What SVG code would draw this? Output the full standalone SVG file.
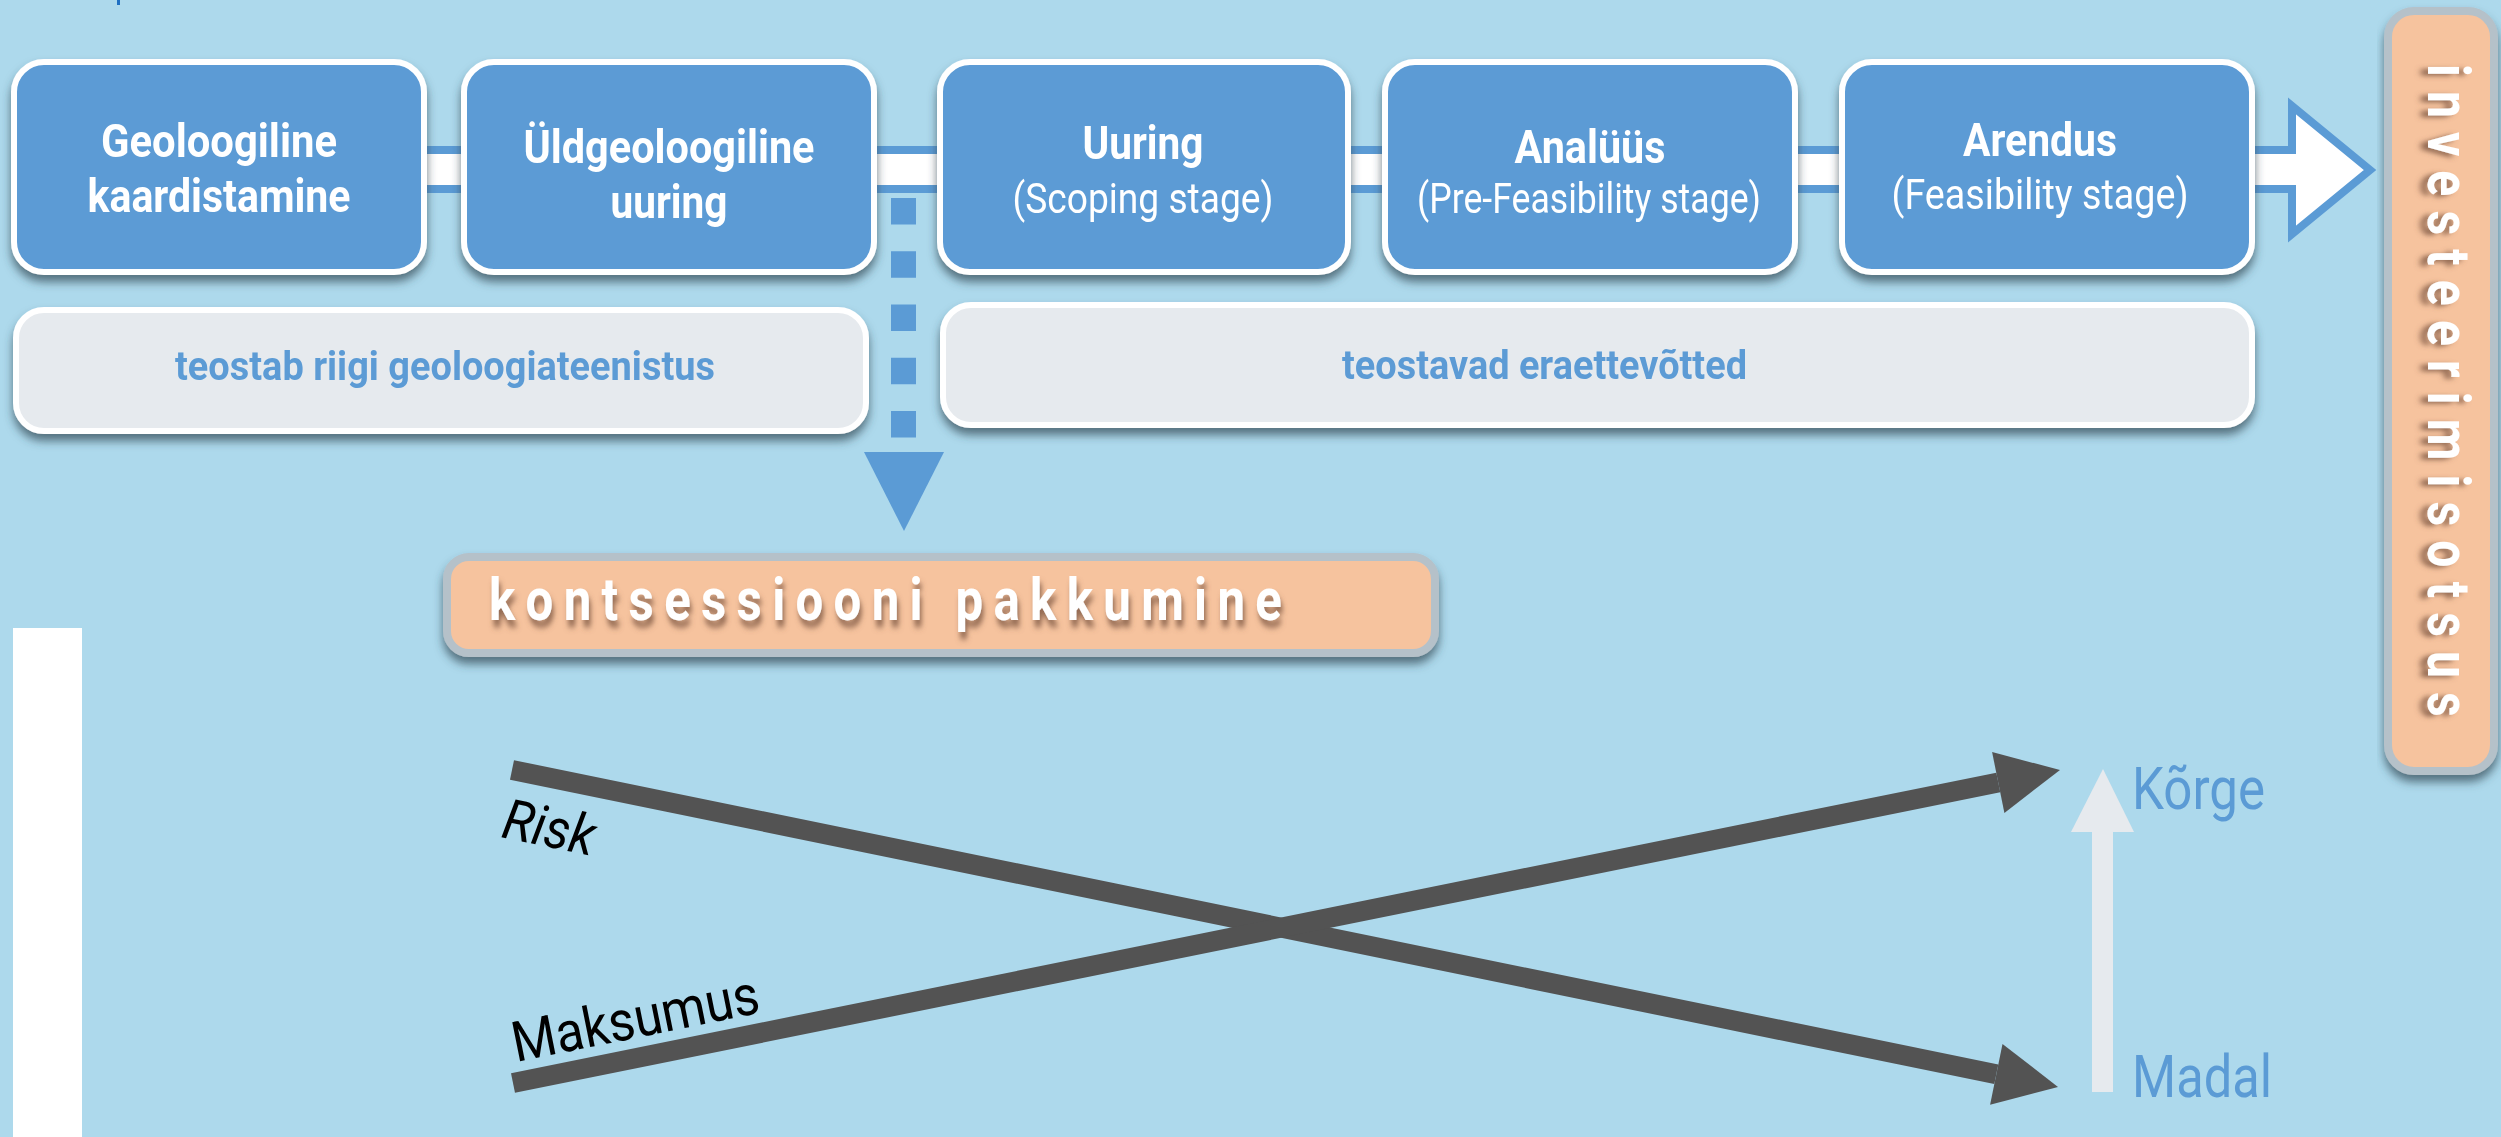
<svg xmlns="http://www.w3.org/2000/svg" width="2501" height="1137" viewBox="0 0 2501 1137">
<defs>
<style>
.node{fill:#5b9bd5;stroke:#ffffff;stroke-width:6}
.gbox{fill:#e6eaee;stroke:#ffffff;stroke-width:6}
.pbox{fill:#f6c39e;stroke:#b5c1c9;stroke-width:8}
.tb{font-family:Roboto,"Liberation Sans",sans-serif;font-weight:bold;font-size:46px;fill:#ffffff;text-anchor:middle}
.tr{font-family:Roboto,"Liberation Sans",sans-serif;font-size:42px;fill:#ffffff;text-anchor:middle}
.gt{font-family:Roboto,"Liberation Sans",sans-serif;font-weight:bold;font-size:40px;fill:#5b9bd5}
.pt{font-family:Roboto,"Liberation Sans",sans-serif;font-weight:bold;font-size:60px;fill:#ffffff}
.lt{font-family:Roboto,"Liberation Sans",sans-serif;font-size:56px;fill:#000000}
.st{font-family:Roboto,"Liberation Sans",sans-serif;font-size:60px;fill:#5b9bd5}
</style>
<filter id="sh" x="-10%" y="-20%" width="120%" height="150%">
<feGaussianBlur in="SourceAlpha" stdDeviation="5"/>
<feOffset dy="7" result="b"/>
<feFlood flood-color="#2f4550" flood-opacity="0.7"/>
<feComposite in2="b" operator="in"/>
<feMerge><feMergeNode/><feMergeNode in="SourceGraphic"/></feMerge>
</filter>
<filter id="tsh" x="-10%" y="-30%" width="120%" height="170%">
<feGaussianBlur in="SourceAlpha" stdDeviation="3"/>
<feOffset dx="2" dy="7" result="b"/>
<feFlood flood-color="#7a5440" flood-opacity="0.8"/>
<feComposite in2="b" operator="in"/>
<feMerge><feMergeNode/><feMergeNode in="SourceGraphic"/></feMerge>
</filter>
</defs>
<rect x="0" y="0" width="2501" height="1137" fill="#add9ec"/>
<rect x="117" y="0" width="3" height="5" fill="#1f6fc2"/>
<rect x="13" y="628" width="69" height="509" fill="#ffffff"/>

<g id="connectors">
<path d="M300 150 H2292 V106 L2370 170 L2292 234 V189 H300 Z" fill="#ffffff" stroke="#5b9bd5" stroke-width="8" stroke-linejoin="miter"/>
<line x1="903.5" y1="198" x2="903.5" y2="438" stroke="#5b9bd5" stroke-width="25" stroke-dasharray="26.5 26.75"/>
<polygon points="864,452 944,452 904,531" fill="#5b9bd5"/>
<line x1="512" y1="770" x2="1996.3" y2="1074.3" stroke="#535353" stroke-width="20"/>
<polygon points="2058,1087 1990.1,1104.7 2002.5,1043.9" fill="#535353"/>
<line x1="513" y1="1083" x2="1998.3" y2="782.5" stroke="#535353" stroke-width="20"/>
<polygon points="2060,770 2004.4,812.9 1992.1,752.1" fill="#535353"/>
<rect x="2092" y="830" width="21" height="262" fill="#e6eaee"/>
<polygon points="2103,769 2134,832 2071,832" fill="#e6eaee"/>
</g>

<g id="node-geoloogiline" filter="url(#sh)">
<rect class="node" x="14" y="62" width="410" height="210" rx="30"/>
<text class="tb" x="219" y="157" textLength="236" lengthAdjust="spacingAndGlyphs">Geoloogiline</text>
<text class="tb" x="219" y="212" textLength="263" lengthAdjust="spacingAndGlyphs">kaardistamine</text>
</g>
<g id="node-uldgeoloogiline" filter="url(#sh)">
<rect class="node" x="464" y="62" width="410" height="210" rx="30"/>
<text class="tb" x="669" y="163" textLength="291" lengthAdjust="spacingAndGlyphs">Üldgeoloogiline</text>
<text class="tb" x="669" y="218" textLength="117" lengthAdjust="spacingAndGlyphs">uuring</text>
</g>
<g id="node-uuring" filter="url(#sh)">
<rect class="node" x="940" y="62" width="408" height="210" rx="30"/>
<text class="tb" x="1143" y="159" textLength="121" lengthAdjust="spacingAndGlyphs">Uuring</text>
<text class="tr" x="1143" y="213" textLength="261" lengthAdjust="spacingAndGlyphs">(Scoping stage)</text>
</g>
<g id="node-analuus" filter="url(#sh)">
<rect class="node" x="1385" y="62" width="410" height="210" rx="30"/>
<text class="tb" x="1590" y="163" textLength="151" lengthAdjust="spacingAndGlyphs">Analüüs</text>
<text class="tr" x="1589" y="213" textLength="344" lengthAdjust="spacingAndGlyphs">(Pre-Feasibility stage)</text>
</g>
<g id="node-arendus" filter="url(#sh)">
<rect class="node" x="1842" y="62" width="410" height="210" rx="30"/>
<text class="tb" x="2040" y="156" textLength="154" lengthAdjust="spacingAndGlyphs">Arendus</text>
<text class="tr" x="2040" y="209" textLength="297" lengthAdjust="spacingAndGlyphs">(Feasibility stage)</text>
</g>

<g id="label-riik" filter="url(#sh)">
<rect class="gbox" x="16" y="310" width="850" height="121" rx="28"/>
<text class="gt" x="175" y="380" textLength="540" lengthAdjust="spacingAndGlyphs">teostab riigi geoloogiateenistus</text>
</g>
<g id="label-era" filter="url(#sh)">
<rect class="gbox" x="943" y="305" width="1309" height="120" rx="28"/>
<text class="gt" x="1342" y="379" textLength="405" lengthAdjust="spacingAndGlyphs">teostavad eraettevõtted</text>
</g>

<g id="node-kontsessioon" filter="url(#sh)">
<rect class="pbox" x="447" y="557" width="988" height="96" rx="22"/>
<text class="pt" font-size="62" transform="translate(489,620) scale(0.82,1)" x="0" y="0" textLength="967" lengthAdjust="spacing" filter="url(#tsh)">kontsessiooni pakkumine</text>
</g>

<g id="node-investeerimisotsus" filter="url(#sh)">
<rect class="pbox" x="2388" y="11" width="106" height="760" rx="26"/>
<text class="pt" font-size="66" font-weight="900" transform="translate(2428,64) rotate(90) scale(0.8,1)" x="0" y="0" textLength="816" lengthAdjust="spacing" filter="url(#tsh)">investeerimisotsus</text>
</g>

<g id="labels">
<text class="lt" font-style="italic" transform="translate(500,837) rotate(11.6)" textLength="93" lengthAdjust="spacingAndGlyphs">Risk</text>
<text class="lt" font-size="62" transform="translate(516,1062) rotate(-11.4)" textLength="251" lengthAdjust="spacingAndGlyphs">Maksumus</text>
<text class="st" x="2132" y="809" textLength="133" lengthAdjust="spacingAndGlyphs">Kõrge</text>
<text class="st" x="2132" y="1097" textLength="140" lengthAdjust="spacingAndGlyphs">Madal</text>
</g>
</svg>
